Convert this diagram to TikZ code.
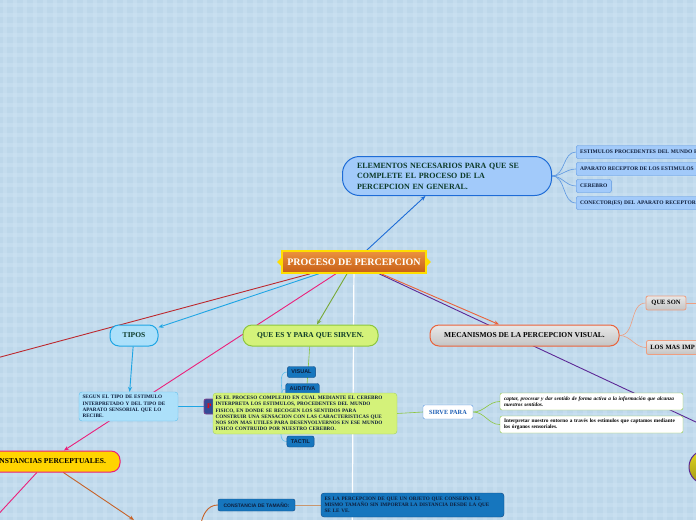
\documentclass[tikz,border=0pt]{standalone}
\usepackage{fontspec}
\setmainfont{Liberation Serif}
\newfontfamily\labelsans{Liberation Sans}
\usetikzlibrary{arrows.meta, shapes}
\definecolor{MapSky}{RGB}{189, 215, 234}
\definecolor{GridLight}{RGB}{206, 228, 244}
\definecolor{RootTop}{RGB}{236, 146, 62}
\definecolor{RootBottom}{RGB}{198, 94, 22}
\definecolor{RootYellow}{RGB}{255, 222, 0}
\definecolor{ElemFill}{RGB}{162, 202, 250}
\definecolor{ElemLine}{RGB}{30, 108, 214}
\definecolor{LeafLine}{RGB}{90, 150, 225}
\definecolor{TextGreen}{RGB}{12, 58, 40}
\definecolor{NavyText}{RGB}{14, 30, 60}
\definecolor{TiposFill}{RGB}{172, 224, 250}
\definecolor{SkyLine}{RGB}{30, 165, 228}
\definecolor{LimeFill}{RGB}{212, 242, 122}
\definecolor{LimeLine}{RGB}{140, 198, 62}
\definecolor{SensorFill}{RGB}{22, 118, 190}
\definecolor{SensorLine}{RGB}{16, 72, 130}
\definecolor{PBoxFill}{RGB}{52, 74, 150}
\definecolor{PBoxLine}{RGB}{130, 64, 140}
\definecolor{GrayTop}{RGB}{232, 232, 232}
\definecolor{GrayBottom}{RGB}{196, 196, 196}
\definecolor{MecLine}{RGB}{234, 98, 58}
\definecolor{SalmonLine}{RGB}{238, 158, 128}
\definecolor{PinkLine}{RGB}{234, 32, 122}
\definecolor{DarkRed}{RGB}{188, 40, 46}
\definecolor{PurpleLine}{RGB}{92, 40, 150}
\definecolor{BrownLine}{RGB}{198, 98, 40}
\definecolor{TanLine}{RGB}{200, 150, 110}
\definecolor{ConsYellow}{RGB}{255, 212, 0}
\definecolor{SirveBlue}{RGB}{26, 92, 180}
\definecolor{BallTop}{RGB}{226, 216, 30}
\definecolor{BallBottom}{RGB}{160, 150, 24}

\pgfdeclarelayer{grid}
\pgfdeclarelayer{links}
\pgfsetlayers{grid,links,main}

\tikzset{
  rootbox/.style={draw=RootYellow, line width=1.6pt, top color=RootTop, bottom color=RootBottom,
    minimum width=144pt, minimum height=22pt, inner sep=0pt, text=white,
    font=\bfseries\fontsize{10}{12}\selectfont},
  headbox/.style={line width=1pt, rounded corners=9pt, minimum height=21pt, inner sep=0pt,
    text=TextGreen, font=\bfseries\fontsize{7.5}{9}\selectfont},
  elembox/.style={draw=ElemLine, fill=ElemFill, line width=1pt, rounded corners=17pt,
    minimum width=209pt, minimum height=39pt, text width=180pt, align=left, inner sep=0pt,
    text=TextGreen, font=\bfseries\fontsize{8}{10.5}\selectfont},
  leafbox/.style={draw=LeafLine, fill=ElemFill, rounded corners=2pt, minimum height=13pt,
    inner xsep=4pt, inner ysep=0pt, anchor=west, align=left, text=NavyText,
    font=\bfseries\fontsize{5.5}{6}\selectfont},
  smallbox/.style={rounded corners=3pt, inner sep=0pt, align=left, text=NavyText,
    font=\bfseries\fontsize{5.2}{6.3}\selectfont},
  sensorbox/.style={draw=SensorLine, fill=SensorFill, rounded corners=2pt, minimum height=11pt,
    inner xsep=4pt, inner ysep=0pt, text=NavyText, font=\labelsans\bfseries\fontsize{5.5}{6}\selectfont},
  notebox/.style={draw=LimeLine, fill=white, rounded corners=2pt, minimum width=183pt,
    minimum height=17pt, text width=175pt, inner sep=0pt, align=left, text=black},
  graybox/.style={draw=SalmonLine, line width=0.8pt, top color=GrayTop, bottom color=GrayBottom,
    rounded corners=2pt, minimum height=14pt, inner sep=0pt, text=black,
    font=\bfseries\fontsize{6.5}{7}\selectfont},
  arrowlink/.style={line width=0.9pt, -{Stealth[length=5pt, width=4pt]}},
  plainlink/.style={line width=0.9pt},
  leaflink/.style={line width=0.6pt},
}

\begin{document}
\begin{tikzpicture}[x=1pt, y=-1pt]
    \useasboundingbox (0,0) rectangle (696,520);

    % Background
    \begin{pgfonlayer}{grid}
      \fill[MapSky] (0,0) rectangle (696,520);
      \foreach \g in {0,10,...,690} {
        \fill[GridLight, opacity=0.45] ({\g+3},0) rectangle ({\g+7},520);
      }
      \foreach \g in {0,10,...,510} {
        \fill[GridLight, opacity=0.45] (0,{\g+3}) rectangle (696,{\g+7});
      }
    \end{pgfonlayer}

    % Central topic
    \node[rootbox] (root) at (354,262) {PROCESO DE PERCEPCION};
    \fill[RootYellow] ([yshift=4pt]root.west) -- ([xshift=-4pt]root.west) -- ([yshift=-4pt]root.west) -- cycle;
    \fill[RootYellow] ([yshift=4pt]root.east) -- ([xshift=4pt]root.east) -- ([yshift=-4pt]root.east) -- cycle;

    % Elementos
    \node[elembox] (elementos) at (447,176) {ELEMENTOS NECESARIOS PARA QUE SE\\COMPLETE EL PROCESO DE LA\\PERCEPCION EN GENERAL.};
    \node[leafbox, text width=140pt] (estimulos) at (576,152) {ESTIMULOS PROCEDENTES DEL MUNDO F};
    \node[leafbox] (aparato) at (576,169) {APARATO RECEPTOR DE LOS ESTIMULOS};
    \node[leafbox] (cerebro) at (576,186) {CEREBRO};
    \node[leafbox, text width=140pt] (conector) at (576,203) {CONECTOR(ES) DEL APARATO RECEPTOR};

    % Tipos
    \node[headbox, draw=SkyLine, fill=TiposFill, minimum width=48pt] (tipos) at (134,335.5) {TIPOS};
    \node[smallbox, draw=SkyLine!70, fill=TiposFill, minimum width=99pt, minimum height=29pt, text width=92pt] (segun) at (128.5,406.5)
      {SEGUN EL TIPO DE ESTIMULO\\INTERPRETADO Y DEL TIPO DE\\APARATO SENSORIAL QUE LO\\RECIBE.};
    \node[draw=PBoxLine, fill=PBoxFill, line width=0.8pt, rounded corners=2pt, minimum width=72pt, minimum height=15pt,
      inner sep=0pt, text width=66pt, align=left, text=red, font=\bfseries\fontsize{7}{8}\selectfont] (pnode) at (240,406.5) {P};

    % Sentidos
    \node[sensorbox] (visual) at (301.5,372) {VISUAL};
    \node[sensorbox] (auditiva) at (302.5,389) {AUDITIVA};
    \node[sensorbox] (tactil) at (300.5,441.5) {TACTIL};

    % Que es y para que sirven
    \node[headbox, draw=LimeLine, fill=LimeFill, minimum width=135pt] (quees) at (310.5,335.5) {QUE ES Y PARA QUE SIRVEN.};
    \node[smallbox, draw=LimeLine!80, fill=LimeFill, minimum width=184pt, minimum height=41pt, text width=179pt] (quedesc) at (305,413.5)
      {ES EL PROCESO COMPLEJIO EN CUAL MEDIANTE EL CEREBRO\\INTERPRETA LOS ESTIMULOS, PROCEDENTES DEL MUNDO\\FISICO, EN DONDE SE RECOGEN LOS SENTIDOS PARA\\CONSTRUIR UNA SENSACION CON LAS CARACTERISTICAS QUE\\NOS SON MAS UTILES PARA DESENVOLVERNOS EN ESE MUNDO\\FISICO CONTRUIDO POR NUESTRO CEREBRO.};
    \node[draw=LeafLine, fill=white, rounded corners=2pt, minimum width=50pt, minimum height=14pt, inner sep=0pt,
      text=SirveBlue, font=\bfseries\fontsize{6.3}{7}\selectfont] (sirve) at (448,412) {SIRVE PARA};
    \node[notebox, font=\itshape\bfseries\fontsize{5.3}{6.3}\selectfont] (captar) at (591.5,401.5)
      {captar, procesar y dar sentido de forma activa a la información que alcanza\\nuestros sentidos.};
    \node[notebox, font=\bfseries\fontsize{5.3}{6.3}\selectfont] (interpretar) at (591.5,424.5)
      {Interpretar nuestro entorno a través los estimulos que captamos mediante\\los órganos sensoriales.};

    % Mecanismos
    \node[headbox, draw=MecLine, top color=GrayTop, bottom color=GrayBottom, minimum width=189pt, text=black] (mecanismos) at (524.5,335.5)
      {MECANISMOS DE LA PERCEPCION VISUAL.};
    \node[graybox, minimum width=40pt] (queson) at (666,303) {QUE SON};
    \node[graybox, anchor=west, text width=72pt, align=left, inner xsep=4pt] (losmas) at (646,347.5) {LOS MAS IMP};
    \node[circle, draw=PurpleLine, line width=1pt, top color=BallTop, bottom color=BallBottom, minimum size=34pt] (ball) at (706,467) {};

    % Constancias
    \node[headbox, draw=PinkLine, fill=ConsYellow, minimum width=146pt, text=black] (constancias) at (47,461.5) {CONSTANCIAS PERCEPTUALES.};
    \node[sensorbox, minimum width=77pt, minimum height=12pt, font=\labelsans\bfseries\fontsize{5}{6}\selectfont] (tamano) at (256.5,505) {CONSTANCIA DE TAMAÑO:};
    \node[smallbox, draw=SensorLine, fill=SensorFill, minimum width=183pt, minimum height=24pt, text width=176pt] (tamdesc) at (412.5,505)
      {ES LA PERCEPCION DE QUE UN OBJETO QUE CONSERVA EL\\MISMO TAMAÑO SIN IMPORTAR LA DISTANCIA DESDE LA QUE\\SE LE VE.};

    % Loose ends
    \coordinate (leftend) at (-100,384);
    \coordinate (rightend) at (760,452);
    \coordinate (downend) at (352,560);
    \coordinate (quesonend) at (740,303);
    \coordinate (consend) at (-30,545);
    \coordinate (brownend) at (134,520);
    \coordinate (tamhub) at (201,524);

    % Connectors
    \begin{pgfonlayer}{links}
      \draw[white, line width=1.2pt] (root) -- (downend);
      \draw[plainlink, DarkRed] (root) -- (leftend);
      \draw[plainlink, PurpleLine] (root) -- (rightend);
      \draw[arrowlink, ElemLine] (root) -- (elementos);
      \draw[arrowlink, SkyLine] (root) -- (tipos);
      \draw[arrowlink, LimeLine!85!black] (root) -- (quees);
      \draw[arrowlink, MecLine] (root) -- (mecanismos);
      \draw[arrowlink, PinkLine] (root) -- (constancias);
      \foreach \n in {estimulos,aparato,cerebro,conector}
        \draw[leaflink, LeafLine] (elementos.east) to[out=0, in=180] (\n.west);
      \draw[arrowlink, SkyLine] (tipos) -- (segun);
      \draw[leaflink, SkyLine] (segun) -- (pnode);
      \foreach \n in {visual,auditiva,tactil}
        \draw[leaflink, SkyLine!70] (pnode.east) to[out=0, in=180] (\n.west);
      \draw[leaflink, LimeLine] (quees) -- (quedesc);
      \draw[leaflink, LimeLine] (quedesc.east) -- (sirve.west);
      \draw[leaflink, LimeLine] (sirve.east) to[out=0, in=180] (captar.west);
      \draw[leaflink, LimeLine] (sirve.east) to[out=0, in=180] (interpretar.west);
      \draw[leaflink, SalmonLine] (mecanismos.east) to[out=0, in=180] (queson.west);
      \draw[leaflink, SalmonLine] (mecanismos.east) to[out=0, in=180] (losmas.west);
      \draw[leaflink, SalmonLine] (queson) -- (quesonend);
      \draw[plainlink, PinkLine] (constancias) -- (consend);
      \draw[arrowlink, BrownLine] (constancias) -- (brownend);
      \draw[plainlink, BrownLine] (tamhub) to[out=80, in=180] (tamano.west);
      \draw[leaflink, TanLine] (tamano) -- (tamdesc);
    \end{pgfonlayer}
\end{tikzpicture}
\end{document}
